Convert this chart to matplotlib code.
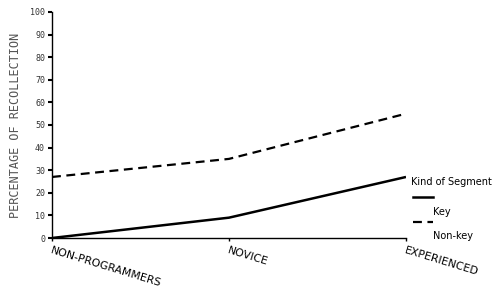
import matplotlib.pyplot as plt

groups = ["NON-PROGRAMMERS", "NOVICE", "EXPERIENCED"]
key = [0, 9, 27]
non_key = [27, 35, 55]
yticks = list(range(0, 101, 10))

fig = plt.figure(figsize=(5, 2.99), dpi=100)
ax = fig.add_axes([0.104, 0.204, 0.708, 0.756])

x = list(range(len(groups)))
ax.plot(x, key, color="black", lw=1.8, solid_capstyle="butt")
ax.plot(x, non_key, color="black", lw=1.6, dashes=(4, 2.5))

ax.set_xlim(0, 2)
ax.set_ylim(0, 100)
ax.set_yticks(yticks)
ax.set_yticklabels([str(t) for t in yticks], fontsize=6, color="#333333",
                   family="DejaVu Sans Mono")
ax.set_xticks(x)
ax.set_xticklabels([])
ax.tick_params(axis="y", length=3, width=1.5, direction="out", pad=2)
ax.tick_params(axis="x", length=2, width=1, direction="out")
for s in ["top", "right"]:
    ax.spines[s].set_visible(False)
for s in ["left", "bottom"]:
    ax.spines[s].set_linewidth(1)

# staircase-like category labels
for xi, g in zip(x, groups):
    ax.annotate(g, (xi, 0), xytext=(0, -5), textcoords="offset points",
                ha="left", va="top", rotation=-17, rotation_mode="anchor",
                fontsize=7.8, family="DejaVu Sans",
                annotation_clip=False)

ax.set_ylabel("PERCENTAGE OF RECOLLECTION", fontsize=8.5, color="#555555",
              family="DejaVu Sans Mono", fontweight="light", labelpad=6)

# legend
fig.text(0.822, 0.392, "Kind of Segment", fontsize=7, va="center")
fig.lines.append(plt.Line2D([0.826, 0.866], [0.341, 0.341], color="black",
                            lw=1.8, transform=fig.transFigure))
fig.text(0.866, 0.292, "Key", fontsize=7, va="center")
fig.lines.append(plt.Line2D([0.826, 0.866], [0.257, 0.257], color="black",
                            lw=1.6, dashes=(4, 2.5), transform=fig.transFigure))
fig.text(0.866, 0.211, "Non-key", fontsize=7, va="center")

fig.savefig("out.png", dpi=100)
